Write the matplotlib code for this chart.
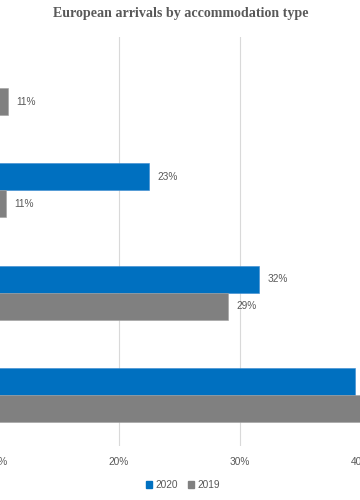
import numpy as np
import matplotlib
matplotlib.use("Agg")
import matplotlib.pyplot as plt
from matplotlib.patches import Patch
from matplotlib.ticker import PercentFormatter

# data (top to bottom); category names are cropped out of the picture
categories = ["Type 1", "Type 2", "Type 3", "Type 4"]
vals_2020 = [0.06, 0.225, 0.316, 0.395]
vals_2019 = [0.109, 0.107, 0.29, 0.49]
labels_2020 = ["6%", "23%", "32%", "40%"]
labels_2019 = ["11%", "11%", "29%", "49%"]
xticks = [0.0, 0.1, 0.2, 0.3, 0.4, 0.5]

blue = "#0070C0"
grey = "#808080"
txt = "#595959"

plt.rcParams["font.family"] = ["Liberation Sans", "DejaVu Sans"]

fig = plt.figure(figsize=(3.6, 5.0), dpi=100)
# the reference is a crop of a wider chart, so the axes run past the figure edges
ax = fig.add_axes([-123.9 / 360, 54 / 500, 606.5 / 360, 409 / 500])

y = np.arange(len(categories))
h = 0.264
ax.barh(y - h / 2, vals_2020, height=h, color=blue, edgecolor="#3a8ad0", linewidth=0.4, zorder=3)
ax.barh(y + h / 2, vals_2019, height=h, color=grey, edgecolor="#a0a0a0", linewidth=0.4, zorder=3)

for i in range(len(categories)):
    ax.text(vals_2020[i] + 0.0068, y[i] - h / 2, labels_2020[i], va="center", ha="left",
            fontsize=7.3, color=txt)
    ax.text(vals_2019[i] + 0.0068, y[i] + h / 2, labels_2019[i], va="center", ha="left",
            fontsize=7.3, color=txt)

ax.set_xlim(0, 0.5)
ax.set_ylim(len(categories) - 0.5, -0.5)
ax.set_xticks(xticks)
ax.xaxis.set_major_formatter(PercentFormatter(1.0, decimals=0))
ax.set_yticks(y)
ax.set_yticklabels([])
ax.tick_params(axis="x", length=0, pad=8, labelsize=7.3, labelcolor=txt)
ax.tick_params(axis="y", length=0)
ax.grid(axis="x", color="#d9d9d9", linewidth=0.8, zorder=0)
for s in ax.spines.values():
    s.set_visible(False)

fig.text(0.503, 0.972, "European arrivals by accommodation type", ha="center", va="center",
         fontsize=10.1, fontweight="bold", color=txt, family="Liberation Serif")

handles = [Patch(color=blue, label="2020"), Patch(color=grey, label="2019")]
fig.legend(handles=handles, loc="center", bbox_to_anchor=(0.508, 0.03), ncol=2, frameon=False,
           fontsize=7.3, labelcolor=txt, handlelength=0.6, handleheight=0.6, handletextpad=0.3,
           columnspacing=1.0)

fig.savefig("out.png", dpi=100)
